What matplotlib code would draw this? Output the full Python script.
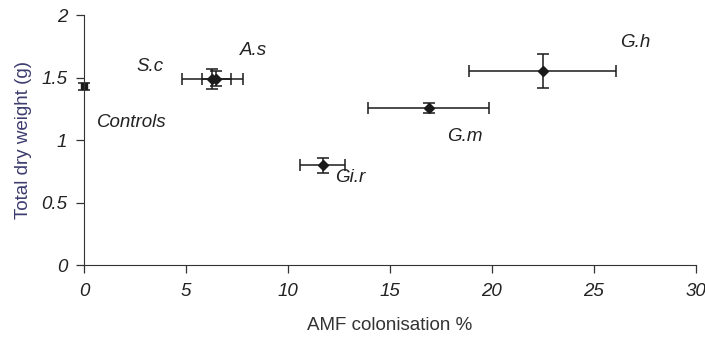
import matplotlib
matplotlib.use("Agg")
import matplotlib.pyplot as plt

plt.rcParams['font.family'] = ['Liberation Sans', 'DejaVu Sans']

# Dados
names = ["Controls", "S.c", "A.s", "Gi.r", "G.m", "G.h"]
col = [0.0, 6.3, 6.5, 11.7, 16.9, 22.5]        # AMF colonisation %
col_err = [0.0, 1.5, 0.7, 1.1, 2.95, 3.6]
weight = [1.43, 1.49, 1.49, 0.80, 1.255, 1.55]  # total dry weight (g)
weight_err = [0.03, 0.08, 0.06, 0.06, 0.04, 0.135]
label_x = [0.65, 2.6, 7.65, 12.3, 17.8, 26.3]
label_y = [1.14, 1.59, 1.72, 0.70, 1.03, 1.78]

fig = plt.figure(figsize=(7.05, 3.42), dpi=100)
ax = fig.add_axes([0.119, 0.225, 0.868, 0.731])

for i in range(len(names)):
    mk = 's' if i == 0 else 'D'
    ax.errorbar(col[i], weight[i], xerr=col_err[i] if col_err[i] > 0 else None,
                yerr=weight_err[i], fmt=mk, color='#1a1a1a', ms=5,
                elinewidth=1.1, capsize=4, capthick=1.1, clip_on=False)
    ax.text(label_x[i], label_y[i], names[i], fontsize=13.5, style='italic',
            color='#222222', va='center', ha='left')

ax.set_xlim(0, 30)
ax.set_ylim(0, 2)
ax.set_xticks([0, 5, 10, 15, 20, 25, 30])
ax.set_yticks([0, 0.5, 1, 1.5, 2])
ax.set_xticklabels(['0', '5', '10', '15', '20', '25', '30'], style='italic', fontsize=13.5)
ax.set_yticklabels(['0', '0.5', '1', '1.5', '2'], style='italic', fontsize=13.5)
ax.spines['top'].set_visible(False)
ax.spines['right'].set_visible(False)
for s in ['left', 'bottom']:
    ax.spines[s].set_color('#333333')
ax.tick_params(colors='#333333', labelcolor='#222222', length=6, width=0.9)
ax.tick_params(axis='x', pad=7)
ax.tick_params(axis='y', pad=6)
ax.set_xlabel("AMF colonisation %", fontsize=13.5, color='#333333', labelpad=12)
ax.set_ylabel("Total dry weight (g)", fontsize=13.5, color='#3c3c6e', labelpad=7)
ax.patch.set_alpha(0)

fig.savefig("out.png", dpi=100)
